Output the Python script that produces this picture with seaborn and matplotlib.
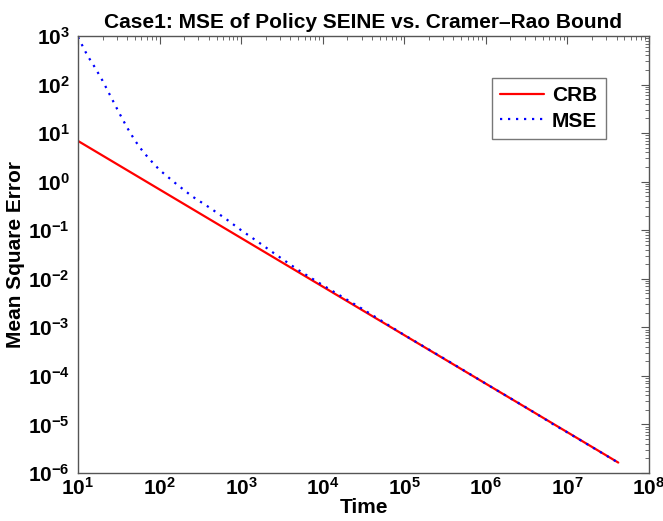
import numpy as np
import pandas as pd
import matplotlib
matplotlib.use("Agg")
import matplotlib.pyplot as plt
import seaborn as sns
from matplotlib.ticker import LogLocator, NullFormatter

# Data
crb_time = [1e1, 1e2, 1e3, 1e4, 1e5, 1e6, 1e7, 4.2e7]
crb_vals = [6.9, 0.69, 0.069, 0.0069, 6.9e-4, 6.9e-5, 6.9e-6, 1.64e-6]

mse_time = [1e1, 1.15e1, 1.3e1, 1.6e1, 2.0e1, 2.5e1, 3.2e1, 4.0e1, 5.0e1, 6.3e1, 8.0e1, 1e2, 1.6e2, 2.5e2,
            4.0e2, 6.3e2, 1e3, 1.6e3, 2.5e3, 5.0e3, 1e4, 3.2e4, 1e5, 3.2e5, 1e6,
            3.2e6, 5.5e6, 6.0e6, 1e7, 2.0e7, 4.2e7]
mse_vals = [950, 600, 400, 230, 120, 58, 26, 13, 7.0, 4.1, 2.6, 1.74, 0.90, 0.50,
            0.30, 0.178, 0.100, 0.058, 0.034, 0.0152, 0.0074, 0.00229, 6.95e-4, 2.19e-4, 6.9e-5,
            2.17e-5, 1.24e-5, 1.12e-5, 6.85e-6, 3.42e-6, 1.63e-6]

df = pd.concat([
    pd.DataFrame({"Time": crb_time, "Value": crb_vals, "Series": "CRB"}),
    pd.DataFrame({"Time": mse_time, "Value": mse_vals, "Series": "MSE"}),
])

sns.set_style("white")
plt.rcParams["font.family"] = ["Liberation Sans", "DejaVu Sans"]
plt.rcParams["font.weight"] = "bold"
plt.rcParams["text.color"] = "black"
plt.rcParams["axes.labelcolor"] = "black"
plt.rcParams["mathtext.fontset"] = "custom"
plt.rcParams["mathtext.rm"] = "Liberation Sans:bold"
plt.rcParams["mathtext.it"] = "Liberation Sans:bold"
plt.rcParams["mathtext.bf"] = "Liberation Sans:bold"
plt.rcParams["mathtext.default"] = "rm"

fig = plt.figure(figsize=(6.63, 5.21), dpi=100)
ax = fig.add_axes([78/663, 1 - 473/521, (649-78)/663, (473-36)/521])

sns.lineplot(data=df, x="Time", y="Value", hue="Series", style="Series",
             palette={"CRB": "#ff0000", "MSE": "#0000ff"},
             dashes={"CRB": "", "MSE": (1, 2.6)},
             linewidth=1.6, ax=ax, legend=True)

ax.set_xscale("log")
ax.set_yscale("log")
ax.set_xlim(1e1, 1e8)
ax.set_ylim(1e-6, 1e3)

ax.xaxis.set_major_locator(LogLocator(base=10, numticks=20))
ax.yaxis.set_major_locator(LogLocator(base=10, numticks=20))
ax.xaxis.set_minor_locator(LogLocator(base=10, subs=np.arange(2, 10), numticks=100))
ax.yaxis.set_minor_locator(LogLocator(base=10, subs=np.arange(2, 10), numticks=100))
ax.xaxis.set_minor_formatter(NullFormatter())
ax.yaxis.set_minor_formatter(NullFormatter())

axis_col = "#555555"
for sp in ax.spines.values():
    sp.set_visible(True)
    sp.set_color(axis_col)
    sp.set_linewidth(1.0)
ax.tick_params(which="both", direction="in", top=True, right=True, colors=axis_col,
               labelcolor="black", labelsize=15)
ax.tick_params(which="major", length=6, width=0.8)
ax.tick_params(axis="x", which="major", pad=3)
ax.tick_params(axis="y", which="major", pad=6)
ax.tick_params(which="minor", length=3, width=0.6)

ax.set_xlabel("Time", fontsize=15, fontweight="bold", labelpad=-1, color="black")
ax.set_ylabel("Mean Square Error", fontsize=15, fontweight="bold", labelpad=2, color="black")
ax.set_title("Case1: MSE of Policy SEINE vs. Cramer\u2013Rao Bound", fontsize=15,
             fontweight="bold", pad=6, color="black")

leg = ax.legend(loc="upper right", bbox_to_anchor=(0.924, 0.904), fontsize=15,
                handlelength=2.1, frameon=True, fancybox=False, borderpad=0.4,
                labelspacing=0.3, handletextpad=0.4, borderaxespad=0)
leg.get_frame().set_edgecolor(axis_col)
leg.get_frame().set_linewidth(1.0)
for t in leg.get_texts():
    t.set_fontweight("bold")
    t.set_color("black")

fig.savefig("out.png", dpi=100, facecolor="white")
